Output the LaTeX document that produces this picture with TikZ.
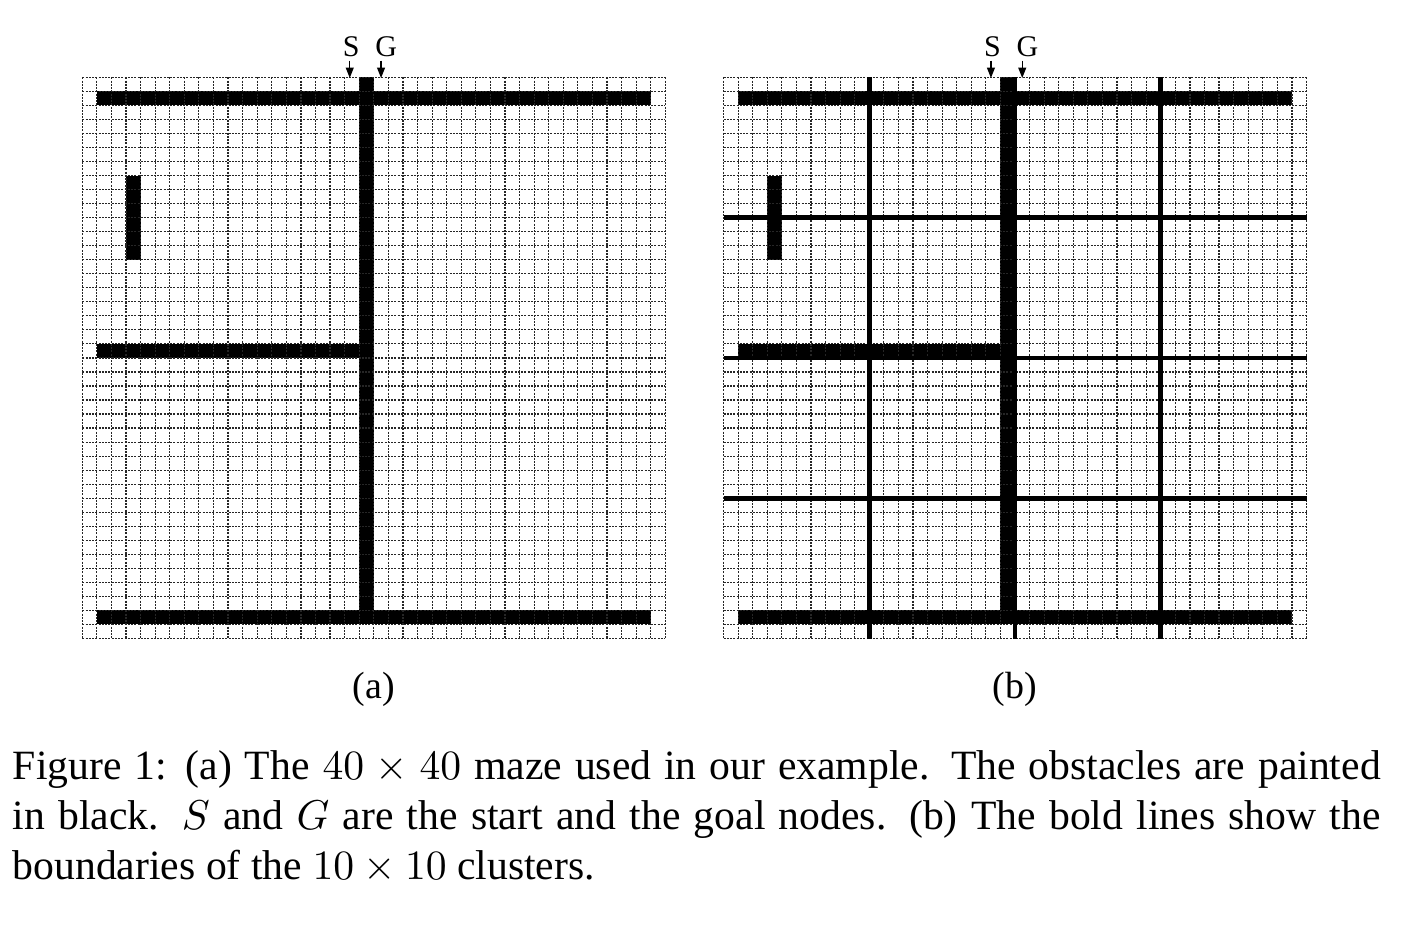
\documentclass[tikz,border=0pt]{standalone}
\usepackage{fontspec}
\setmainfont{Liberation Serif}
\usetikzlibrary{arrows.meta, positioning}

\begin{document}
\begin{tikzpicture}[
    x=0.24pt, y=-0.24pt,
    gridline/.style={line width=0.28pt, black!85, dash pattern=on 0.48pt off 0.3pt},
    wall/.style={fill=black},
    cluster/.style={line width=1.15pt, black},
    marker/.style={-{Triangle[length=2.5pt, width=1.9pt]}, line width=0.3pt, shorten <=0.6pt},
    marklbl/.style={font=\fontsize{7.2}{9}\selectfont, inner sep=0pt, anchor=base},
    sublbl/.style={font=\fontsize{9.1}{11}\selectfont, inner sep=0pt, anchor=base},
    caption/.style={font=\fontsize{10}{12}\selectfont, inner sep=0pt, text width=328.3pt, align=justify, anchor=north west}
]
\useasboundingbox (0,0) rectangle (1423,924);

% the two mazes, 40 x 40 cells each
\foreach \ox/\lab in {82.3/a, 723.5/b} {
  \begin{scope}[shift={(\ox,77.3)}, xscale=14.575, yscale=14.03]
    % obstacles
    \fill[wall] (1,1) rectangle (39,2);
    \fill[wall] (1,38) rectangle (39,39);
    \fill[wall] (19,0) rectangle (20,39);
    \fill[wall] (1,19) rectangle (19,20);
    \fill[wall] (3,7) rectangle (4,13);
    % cells
    \foreach \i in {0,...,40} {
      \draw[gridline] (\i,0) -- (\i,40);
      \draw[gridline] (0,\i) -- (40,\i);
    }
    % start and goal
    \node[marklbl] (S\lab) at (18.45,-1.45) {S};
    \node[marklbl] (G\lab) at (20.85,-1.45) {G};
    \coordinate (S\lab tip) at (18.35,0.05);
    \coordinate (G\lab tip) at (20.5,0.05);
    \draw[marker] (S\lab.south -| S\lab tip) -- (S\lab tip);
    \draw[marker] (G\lab.south -| G\lab tip) -- (G\lab tip);
    \node[sublbl] (sub\lab) at (20,44.3) {(\lab)};
  \end{scope}
}

% cluster boundaries of (b)
\begin{scope}[shift={(723.5,77.3)}, xscale=14.575, yscale=14.03]
  \foreach \k in {10,20,30} {
    \draw[cluster] (\k,0) -- (\k,40);
    \draw[cluster] (0,\k) -- (40,\k);
  }
\end{scope}

\node[caption] (cap) at (12,744) {\strut Figure 1: (a) The $40\times40$ maze used in our example. The obstacles are painted in black. $S$ and $G$ are the start and the goal nodes. (b) The bold lines show the boundaries of the $10\times10$ clusters.};

\end{tikzpicture}
\end{document}
